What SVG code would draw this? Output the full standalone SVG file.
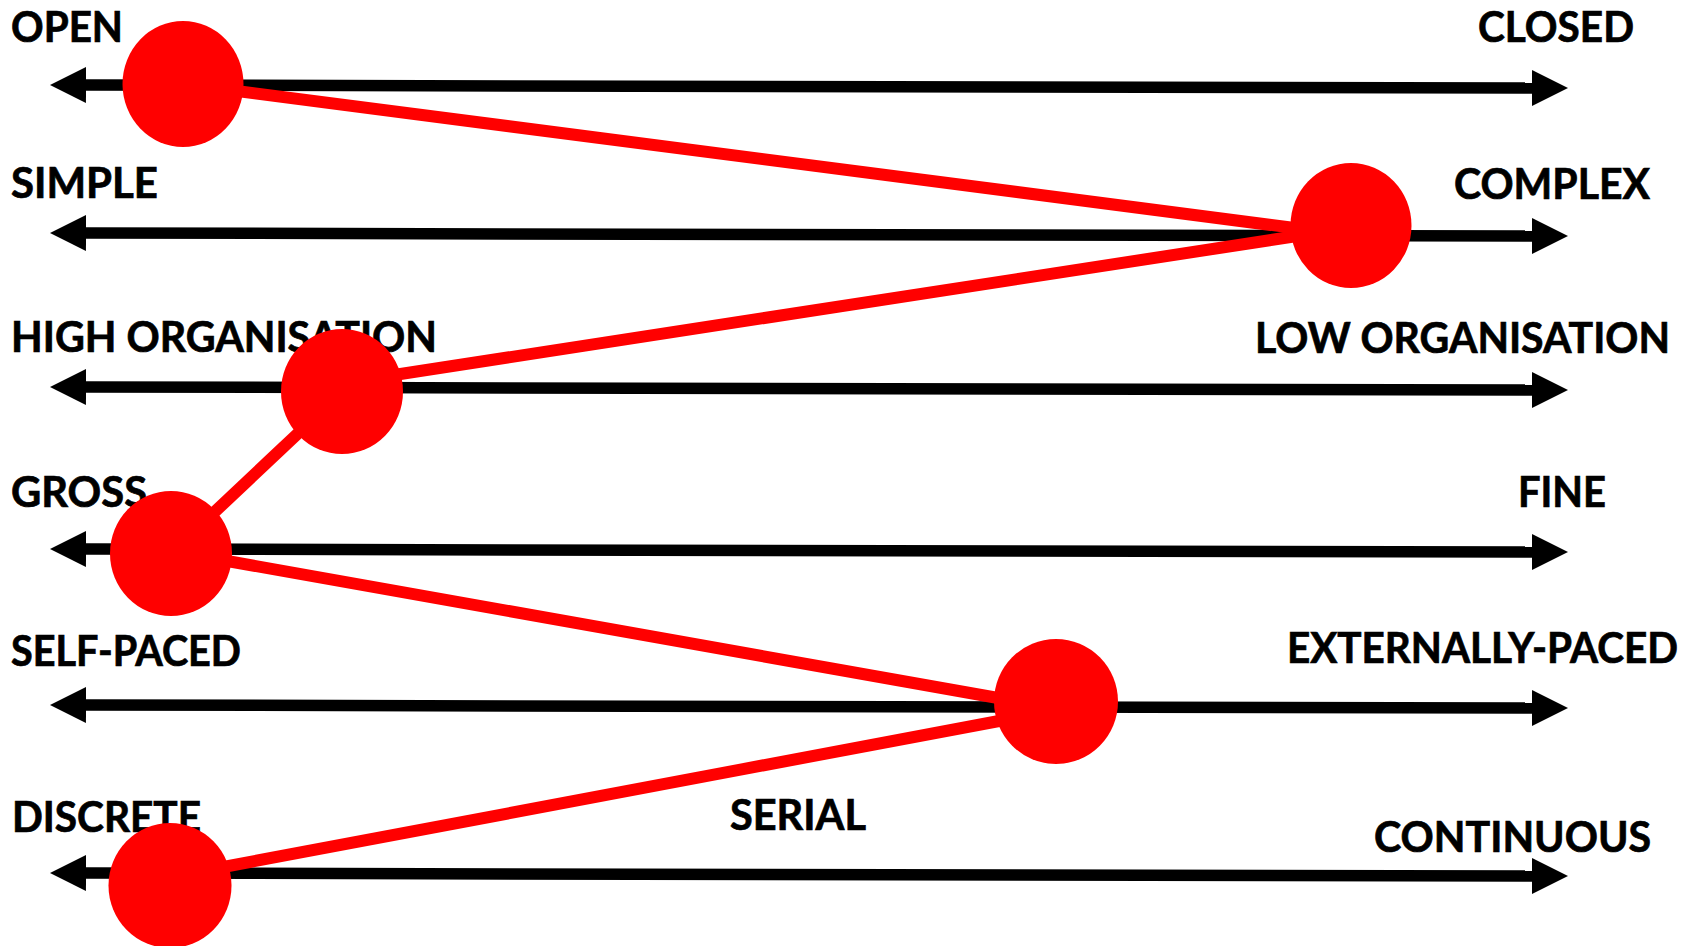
<svg xmlns="http://www.w3.org/2000/svg" width="1697" height="946" viewBox="0 0 1697 946">
  <style>
    .lbl { font-family: Lato, "Open Sans", "Liberation Sans", sans-serif; font-weight: bold; font-size: 42px; fill: #000; stroke: #000; stroke-width: 0.7; }
    .axis { stroke: #000; stroke-width: 11.5; fill: none; marker-start: url(#head); marker-end: url(#head); }
    .link { stroke: #ff0000; stroke-width: 12; fill: none; }
    .dot { fill: #ff0000; }
  </style>
  <defs>
    <marker id="head" markerUnits="userSpaceOnUse" markerWidth="37" markerHeight="36" refX="0" refY="18" orient="auto-start-reverse" viewBox="0 0 37 36">
      <path d="M0,0 L36,18 L0,36 Z" fill="#000"/>
    </marker>
  </defs>

  <!-- axis end labels -->
  <g id="labels">
    <text class="lbl" x="11" y="42" textLength="112" lengthAdjust="spacingAndGlyphs">OPEN</text>
    <text class="lbl" x="1478" y="42" textLength="156" lengthAdjust="spacingAndGlyphs">CLOSED</text>
    <text class="lbl" x="11" y="198" textLength="147" lengthAdjust="spacingAndGlyphs">SIMPLE</text>
    <text class="lbl" x="1454" y="199" textLength="196" lengthAdjust="spacingAndGlyphs">COMPLEX</text>
    <text class="lbl" x="11" y="352" textLength="426" lengthAdjust="spacingAndGlyphs">HIGH ORGANISATION</text>
    <text class="lbl" x="1255" y="353" textLength="415" lengthAdjust="spacingAndGlyphs">LOW ORGANISATION</text>
    <text class="lbl" x="11" y="507" textLength="136" lengthAdjust="spacingAndGlyphs">GROSS</text>
    <text class="lbl" x="1518" y="507" textLength="88" lengthAdjust="spacingAndGlyphs">FINE</text>
    <text class="lbl" x="11" y="666" textLength="230" lengthAdjust="spacingAndGlyphs">SELF-PACED</text>
    <text class="lbl" x="1287" y="663" textLength="391" lengthAdjust="spacingAndGlyphs">EXTERNALLY-PACED</text>
    <text class="lbl" x="12" y="832" textLength="189" lengthAdjust="spacingAndGlyphs">DISCRETE</text>
    <text class="lbl" x="730" y="830" textLength="136" lengthAdjust="spacingAndGlyphs">SERIAL</text>
    <text class="lbl" x="1374" y="852" textLength="277" lengthAdjust="spacingAndGlyphs">CONTINUOUS</text>
  </g>

  <!-- double-headed continuum axes -->
  <g id="axes">
    <line class="axis" x1="86" y1="85" x2="1532" y2="88"/>
    <line class="axis" x1="86" y1="233" x2="1532" y2="236"/>
    <line class="axis" x1="86" y1="387" x2="1532" y2="390"/>
    <line class="axis" x1="86" y1="549" x2="1532" y2="552"/>
    <line class="axis" x1="86" y1="705" x2="1532" y2="708"/>
    <line class="axis" x1="86" y1="873" x2="1532" y2="876"/>
  </g>

  <!-- profile line joining the markers -->
  <g id="connectors">
    <line class="link" x1="183" y1="84" x2="1310" y2="230"/>
    <line class="link" x1="342" y1="383" x2="1310" y2="234"/>
    <line class="link" x1="171" y1="553" x2="342" y2="392"/>
    <line class="link" x1="171" y1="551" x2="1015" y2="701"/>
    <line class="link" x1="170" y1="877" x2="1015" y2="718"/>
  </g>

  <!-- position markers -->
  <g id="marker-open"><ellipse class="dot" cx="183" cy="84" rx="60.5" ry="63"/></g>
  <g id="marker-complex"><ellipse class="dot" cx="1351" cy="225.5" rx="60.5" ry="62.5"/></g>
  <g id="marker-high-organisation"><ellipse class="dot" cx="342" cy="391.5" rx="61" ry="62.5"/></g>
  <g id="marker-gross"><ellipse class="dot" cx="171" cy="553.5" rx="61" ry="62.5"/></g>
  <g id="marker-externally-paced"><ellipse class="dot" cx="1056" cy="701.5" rx="62" ry="62.5"/></g>
  <g id="marker-discrete"><ellipse class="dot" cx="170" cy="885.5" rx="61.5" ry="62.5"/></g>
</svg>
